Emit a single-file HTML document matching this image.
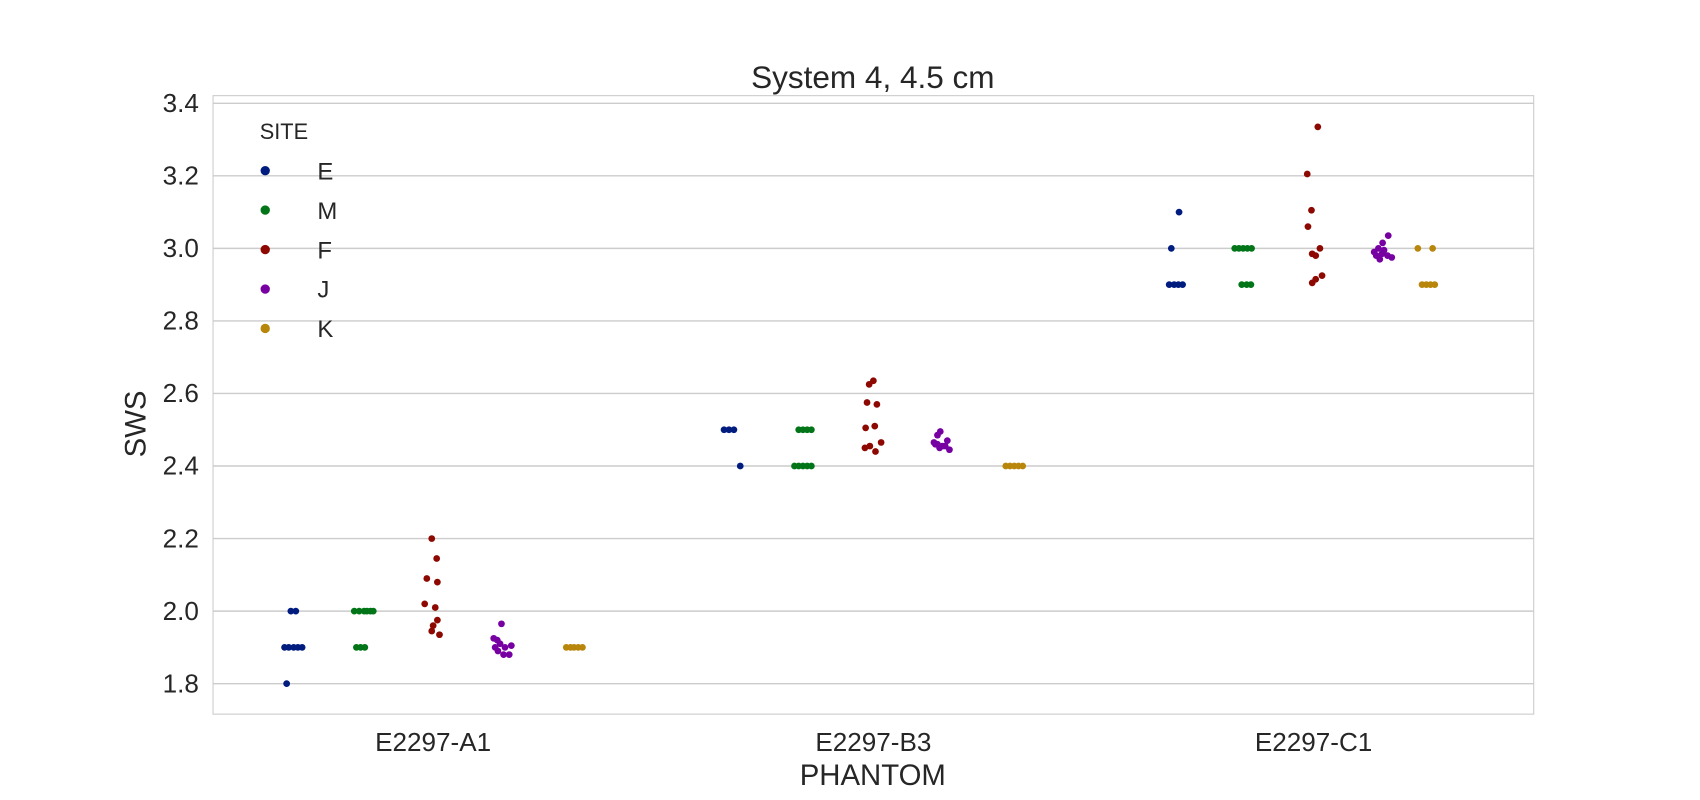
<!DOCTYPE html>
<html><head><meta charset="utf-8"><style>
html,body{margin:0;padding:0;background:#fff;}
svg{display:block;font-family:"Liberation Sans",Arial,sans-serif;}
</style></head><body>
<svg id="chart" width="1700" height="800" viewBox="0 0 1564 736" xmlns="http://www.w3.org/2000/svg">
<rect width="1564" height="736" fill="#fff"/>
<text x="803" y="81" text-anchor="middle" font-size="29" fill="#262626">System 4, 4.5 cm</text>
<g id="grid"></g>
<rect x="196" y="88" width="1215" height="569" fill="none" stroke="#cccccc" stroke-width="1"/>
<g id="yticks"></g><g id="xticks"></g>
<text x="134" y="390" text-anchor="middle" font-size="27" fill="#262626" transform="rotate(-90 134 390)">SWS</text>
<text x="803" y="722" text-anchor="middle" font-size="27" fill="#262626">PHANTOM</text>
<g id="points"></g>
<g id="legend">
<text x="239" y="128" font-size="20" fill="#262626">SITE</text>
</g>
</svg>
<script>
const categories = ["E2297-A1","E2297-B3","E2297-C1"];
const sites = ["E","M","F","J","K"];
const colors = ["#001c7f","#017517","#8c0800","#7600a1","#b8860b"];
const yTicks = [1.8,2.0,2.2,2.4,2.6,2.8,3.0,3.2,3.4];
const valuesA1E=[1.8,2.0,2.0,1.9,1.9,1.9,1.9,1.9];
const valuesA1M=[2.0,2.0,2.0,2.0,2.0,2.0,1.9,1.9,1.9];
const valuesA1F=[2.2,2.145,2.09,2.08,2.02,2.01,1.975,1.96,1.945,1.935];
const valuesA1J=[1.965,1.925,1.92,1.91,1.905,1.9,1.89,1.88,1.88,1.9];
const valuesA1K=[1.9,1.9,1.9,1.9,1.9];
const valuesB3E=[2.5,2.5,2.5,2.4];
const valuesB3M=[2.5,2.5,2.5,2.5,2.4,2.4,2.4,2.4,2.4];
const valuesB3F=[2.635,2.625,2.575,2.57,2.51,2.505,2.465,2.455,2.45,2.44];
const valuesB3J=[2.495,2.485,2.47,2.46,2.455,2.45,2.445,2.455,2.46,2.465];
const valuesB3K=[2.4,2.4,2.4,2.4,2.4];
const valuesC1E=[3.1,3.0,2.9,2.9,2.9,2.9];
const valuesC1M=[3.0,3.0,3.0,3.0,3.0,2.9,2.9,2.9];
const valuesC1F=[3.335,3.205,3.105,3.06,3.0,2.985,2.98,2.925,2.915,2.905];
const valuesC1J=[3.035,3.015,3.0,2.99,2.985,2.98,2.975,2.97,2.995,2.98];
const valuesC1K=[3.0,3.0,2.9,2.9,2.9,2.9];
const jitterA1E=[-.08,-.02,.05,-.11,-.05,.02,.08,.14];
const jitterA1M=[-.12,-.05,.02,.06,.11,.15,-.09,-.03,.03];
const jitterA1F=[-.02,.05,-.09,.06,-.12,.03,.06,0,-.02,.09];
const jitterA1J=[-.03,-.14,-.09,-.05,.11,.02,-.08,0,.08,-.12];
const jitterA1K=[-.11,-.05,0,.06,.12];
const jitterB3E=[-.12,-.05,.02,.11];
const jitterB3M=[-.06,0,.06,.12,-.12,-.06,0,.06,.12];
const jitterB3F=[0,-.06,-.09,.05,.02,-.11,.11,-.05,-.12,.03];
const jitterB3J=[-.05,-.09,.05,-.12,-.02,-.06,.08,.02,-.09,-.14];
const jitterB3K=[-.12,-.06,0,.06,.12];
const jitterC1E=[.09,-.02,-.05,.02,.08,.14];
const jitterC1M=[-.12,-.06,0,.06,.12,-.02,.05,.11];
const jitterC1F=[.06,-.09,-.03,-.08,.09,-.02,.03,.12,.03,-.02];
const jitterC1J=[.06,-.02,-.08,-.14,-.03,.05,.11,-.06,0,-.11];
const jitterC1K=[-.52,-.31,-.46,-.4,-.34,-.28];
const values=[[valuesA1E,valuesA1M,valuesA1F,valuesA1J,valuesA1K],[valuesB3E,valuesB3M,valuesB3F,valuesB3J,valuesB3K],[valuesC1E,valuesC1M,valuesC1F,valuesC1J,valuesC1K]];
const jitter=[[jitterA1E,jitterA1M,jitterA1F,jitterA1J,jitterA1K],[jitterB3E,jitterB3M,jitterB3F,jitterB3J,jitterB3K],[jitterC1E,jitterC1M,jitterC1F,jitterC1J,jitterC1K]];

const NS="http://www.w3.org/2000/svg";
const X0=196,X1=1411,Y0=88,Y1=657,ymin=1.716,ymax=3.421;
const band=(X1-X0)/categories.length, dodge=band*0.8/sites.length;
const yScale=v=>Y1-(v-ymin)/(ymax-ymin)*(Y1-Y0);
const xCat=i=>X0+band*(i+0.5);
const xSite=(i,s)=>xCat(i)-band*0.4+dodge*(s+0.5);
function mk(tag,attrs,parent){const e=document.createElementNS(NS,tag);for(const k in attrs)e.setAttribute(k,attrs[k]);parent.appendChild(e);return e;}
const grid=document.getElementById('grid'),yt=document.getElementById('yticks'),xt=document.getElementById('xticks'),pts=document.getElementById('points'),lg=document.getElementById('legend');
yTicks.forEach(t=>{
  const l=mk('line',{x1:X0,x2:X1,y1:yScale(t),y2:yScale(t),stroke:'#cccccc','stroke-width':1.3},grid);
  
  
  const tx=mk('text',{x:X0-13,y:yScale(t)+8,'text-anchor':'end','font-size':24,fill:'#262626'},yt);
  tx.textContent=t.toFixed(1);
  
  
});
categories.forEach((c,i)=>{
  const tx=mk('text',{x:xCat(i),y:691,'text-anchor':'middle','font-size':24,fill:'#262626'},xt);
  tx.textContent=c;
  
  
  sites.forEach((s,si)=>{
    values[i][si].forEach((v,k)=>{
      const p=mk('circle',{cx:xSite(i,si)+jitter[i][si][k]*dodge,cy:yScale(v),r:3.1,fill:colors[si]},pts);
      
      
    });
  });
});
sites.forEach((s,si)=>{
  const y=157+si*36.3;
  const c=mk('circle',{cx:244,cy:y,r:4.3,fill:colors[si]},lg);
  
  
  const t=mk('text',{x:292,y:y+8,'font-size':22,fill:'#262626'},lg);
  t.textContent=s;
  
  
});
</script>
</body></html>
